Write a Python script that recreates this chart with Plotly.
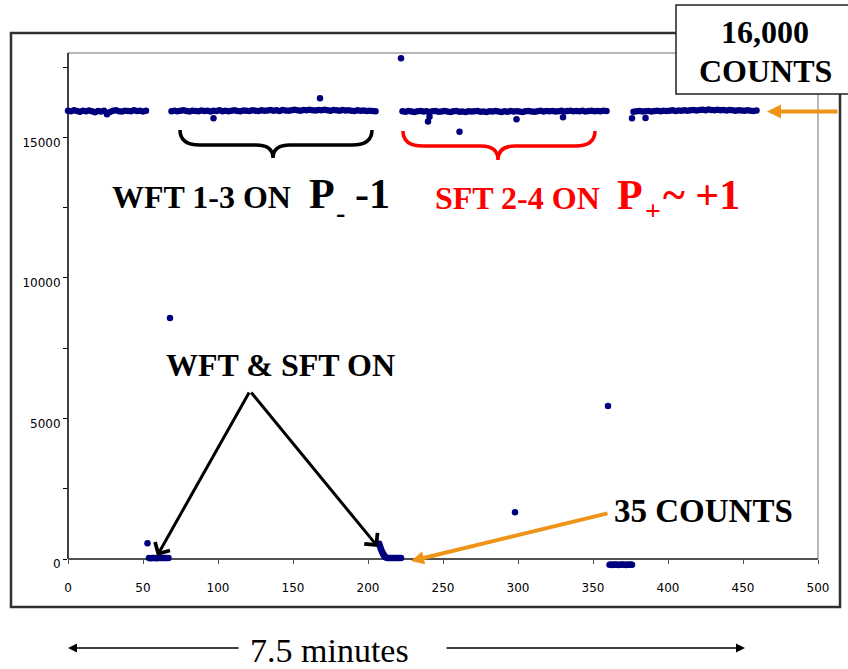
import numpy as np
import plotly.graph_objects as go

# ---- count-rate data (time in s, counts per bin) ----
seg1_t = np.arange(0, 53, 2)
seg1_counts = [15950, 15930, 15960, 15940, 15910, 15945, 15925, 15955, 15930, 15890,
               15940, 15920, 15950, 15820, 15905, 15945, 15960, 15930, 15915, 15950,
               15940, 15925, 15960, 15935, 15945, 15920, 15950]

both_on_a_t = np.arange(54, 68, 1)
both_on_a_counts = [35, 30, 38, 33, 36, 31, 34, 37, 32, 35, 36, 33, 35, 34]

seg2_t = np.arange(69, 206, 2)
seg2_counts = [15930, 15950, 15925, 15945, 15960, 15935, 15915, 15950, 15940, 15925,
               15955, 15935, 15945, 15920, 15950, 15940, 15960, 15930, 15945, 15925,
               15950, 15965, 15940, 15930, 15955, 15945, 15935, 15960, 15950, 15940,
               15965, 15945, 15955, 15975, 15950, 15960, 15940, 15970, 15955, 15945,
               15965, 15980, 15960, 15950, 15975, 15960, 15985, 15965, 15955, 15970,
               15960, 15980, 15965, 15950, 15975, 15960, 15945, 15970, 15955, 15965,
               15950, 15940, 15960, 15945, 15955, 15935, 15950, 15940, 15930]

both_on_b_t = [207.5, 208, 208.5, 209, 209.5, 210, 210.5, 211, 211.5, 212,
               213, 214, 215, 216, 217, 218, 219, 220, 221, 222]
both_on_b_counts = [540, 450, 370, 300, 240, 185, 140, 100, 70, 50,
                    38, 35, 34, 36, 35, 33, 35, 34, 36, 35]

seg3_t = np.arange(223, 360, 2)
seg3_counts = [15930, 15910, 15935, 15920, 15900, 15925, 15940, 15915, 15930, 15905,
               15925, 15935, 15910, 15920, 15940, 15915, 15900, 15925, 15935, 15910,
               15920, 15905, 15930, 15915, 15925, 15940, 15910, 15920, 15900, 15930,
               15915, 15935, 15920, 15905, 15925, 15910, 15940, 15920, 15930, 15915,
               15905, 15925, 15935, 15920, 15910, 15930, 15945, 15920, 15935, 15925,
               15940, 15915, 15930, 15945, 15920, 15935, 15950, 15925, 15940, 15930,
               15945, 15920, 15935, 15950, 15930, 15940, 15925, 15945, 15935]

both_on_c_t = np.arange(361, 377, 1)
both_on_c_counts = [-205, -200, -210, -195, -205, -200, -210, -205,
                    -200, -195, -205, -210, -200, -205, -200, -205]

seg4_t = np.arange(377, 460, 2)
seg4_counts = [15910, 15925, 15935, 15915, 15930, 15940, 15920, 15935, 15945, 15930,
               15950, 15935, 15945, 15960, 15940, 15955, 15950, 15965, 15945, 15960,
               15975, 15955, 15970, 15985, 15960, 15990, 15975, 15965, 15980, 15960,
               15975, 15955, 15970, 15960, 15950, 15965, 15955, 15945, 15960, 15950,
               15940, 15955]

stray_t = [53, 68, 97, 168, 222, 240, 241, 261, 298, 299, 330, 360, 376, 385]
stray_counts = [560, 8570, 15680, 16390, 17810, 15560, 15735, 15200, 1660, 15640,
                15710, 5440, 15680, 15690]

x_ticks = [0, 50, 100, 150, 200, 250, 300, 350, 400, 450, 500]
y_ticks = [0, 5000, 10000, 15000]
y_minor_ticks = [2500, 7500, 12500, 17500]

time = np.concatenate([seg1_t, both_on_a_t, seg2_t, both_on_b_t, seg3_t,
                       both_on_c_t, seg4_t, stray_t])
counts = np.concatenate([seg1_counts, both_on_a_counts, seg2_counts, both_on_b_counts,
                         seg3_counts, both_on_c_counts, seg4_counts, stray_counts])

# ---- page geometry (pixels) ----
W, H = 848, 669
L, R, T = 68, 818, 53
AXIS_Y = 559          # where count = 0 sits
PB = 575              # bottom of the plotting region (room for sub-zero points)
Y_TOP = 18000
Y_BOT = -Y_TOP * (PB - AXIS_Y) / (AXIS_Y - T)


def fx(px):
    return (px - L) / (R - L)


def fy(py):
    return (PB - py) / (PB - T)


fig = go.Figure()
fig.add_trace(go.Scatter(
    x=time, y=counts, mode="markers",
    marker=dict(color="#00007F", size=6.5, line=dict(width=0)),
    cliponaxis=False, showlegend=False, hoverinfo="x+y",
))

SERIF = "Liberation Serif, Times New Roman, serif"
shapes = []
annotations = []

# outer frame
shapes.append(dict(type="rect", xref="paper", yref="paper",
                   x0=fx(11), x1=fx(840), y0=fy(607), y1=fy(33),
                   line=dict(color="#303030", width=2.5), layer="below"))
# plot-area border (top and right)
shapes.append(dict(type="path", xref="paper", yref="paper",
                   path=f"M {fx(L)},{fy(T)} L {fx(R)},{fy(T)} L {fx(R)},{fy(AXIS_Y)}",
                   line=dict(color="#A0A0A0", width=1.5), layer="below"))
# value axis line, from the top down to zero
shapes.append(dict(type="line", xref="paper", yref="paper",
                   x0=0, x1=0, y0=fy(T), y1=fy(AXIS_Y),
                   line=dict(color="black", width=1.5), layer="below"))
# label box on top right
shapes.append(dict(type="rect", xref="paper", yref="paper",
                   x0=fx(676), x1=fx(853), y0=fy(94), y1=fy(5),
                   fillcolor="white", line=dict(color="#202020", width=1.5), layer="above"))


def brace(x0, x1, xm, ytop, ymid, ytip):
    r = 20
    pts = [
        f"M {fx(x0)},{fy(ytop)}",
        f"Q {fx(x0)},{fy(ymid)} {fx(x0 + r)},{fy(ymid)}",
        f"L {fx(xm - 17)},{fy(ymid)}",
        f"Q {fx(xm)},{fy(ymid)} {fx(xm)},{fy(ytip)}",
        f"Q {fx(xm)},{fy(ymid)} {fx(xm + 17)},{fy(ymid)}",
        f"L {fx(x1 - r)},{fy(ymid)}",
        f"Q {fx(x1)},{fy(ymid)} {fx(x1)},{fy(ytop)}",
    ]
    return " ".join(pts)


shapes.append(dict(type="path", xref="paper", yref="paper",
                   path=brace(180, 372, 273, 130, 145, 158),
                   line=dict(color="black", width=3.5)))
shapes.append(dict(type="path", xref="paper", yref="paper",
                   path=brace(403, 595, 498, 131, 146, 160),
                   line=dict(color="#FF0000", width=3.5)))


def label(text, cx, cy, size, color="black", bold=True):
    annotations.append(dict(
        text=f"<b>{text}</b>" if bold else text,
        x=fx(cx), y=fy(cy), xref="paper", yref="paper",
        xanchor="center", yanchor="middle", showarrow=False,
        font=dict(family=SERIF, size=size, color=color)))


def arrow(tail, head, color, width, head_style, head_size):
    annotations.append(dict(
        text="", x=fx(head[0]), y=fy(head[1]), xref="paper", yref="paper",
        ax=tail[0] - head[0], ay=tail[1] - head[1], axref="pixel", ayref="pixel",
        showarrow=True, arrowcolor=color, arrowwidth=width,
        arrowhead=head_style, arrowsize=head_size, standoff=0))


label("WFT 1-3 ON", 201, 197, 32)
label("P", 322, 194, 42)
label("-", 340, 212, 28)
label("-1", 372, 194, 42)

label("SFT 2-4 ON", 517, 198, 32, "#FF0000")
label("P", 630, 195, 42, "#FF0000")
label("+", 653, 210, 28, "#FF0000")
label("~ +1", 701, 195, 42, "#FF0000")

label("WFT &amp; SFT ON", 280, 365, 32)
label("35 COUNTS", 703, 511, 33)
label("16,000", 765, 32, 32)
label("COUNTS", 765, 71, 32)
label("7.5 minutes", 329, 650, 34, bold=False)

# pointers
arrow((250, 391), (157, 556), "black", 3, 4, 1.1)
arrow((250, 391), (378, 547), "black", 3, 4, 1.1)
arrow((609, 513), (411, 561), "#EE9418", 4, 2, 0.65)
arrow((839, 111.5), (767, 111.5), "#EE9418", 4, 2, 0.7)
arrow((240, 648), (68, 648), "black", 1.5, 2, 1.2)
arrow((445, 648), (745, 648), "black", 1.5, 2, 1.2)

tick_font = dict(family="DejaVu Sans, Verdana, sans-serif", size=12, color="black")

fig.update_layout(
    width=W, height=H,
    margin=dict(l=L, r=W - R, t=T, b=H - PB, pad=0),
    paper_bgcolor="white", plot_bgcolor="white",
    shapes=shapes, annotations=annotations,
    xaxis=dict(range=[0, 500], tickvals=x_ticks, ticktext=[str(v) for v in x_ticks],
               anchor="free", position=fy(AXIS_Y), layer="below traces",
               showgrid=False, zeroline=False, showline=True,
               linecolor="#505050", linewidth=2, ticks="outside", ticklen=4,
               tickcolor="#505050", tickfont=tick_font, ticklabelstandoff=14),
    yaxis=dict(range=[Y_BOT, Y_TOP], tickvals=y_ticks, ticktext=[str(v) for v in y_ticks],
               showgrid=False, zeroline=False, showline=False, layer="below traces",
               ticks="outside", ticklen=4,
               tickcolor="black", tickfont=tick_font, ticklabelshift=5,
               minor=dict(tickvals=y_minor_ticks, ticks="outside",
                          ticklen=4, tickcolor="black")),
)

fig.write_html("out.html")
